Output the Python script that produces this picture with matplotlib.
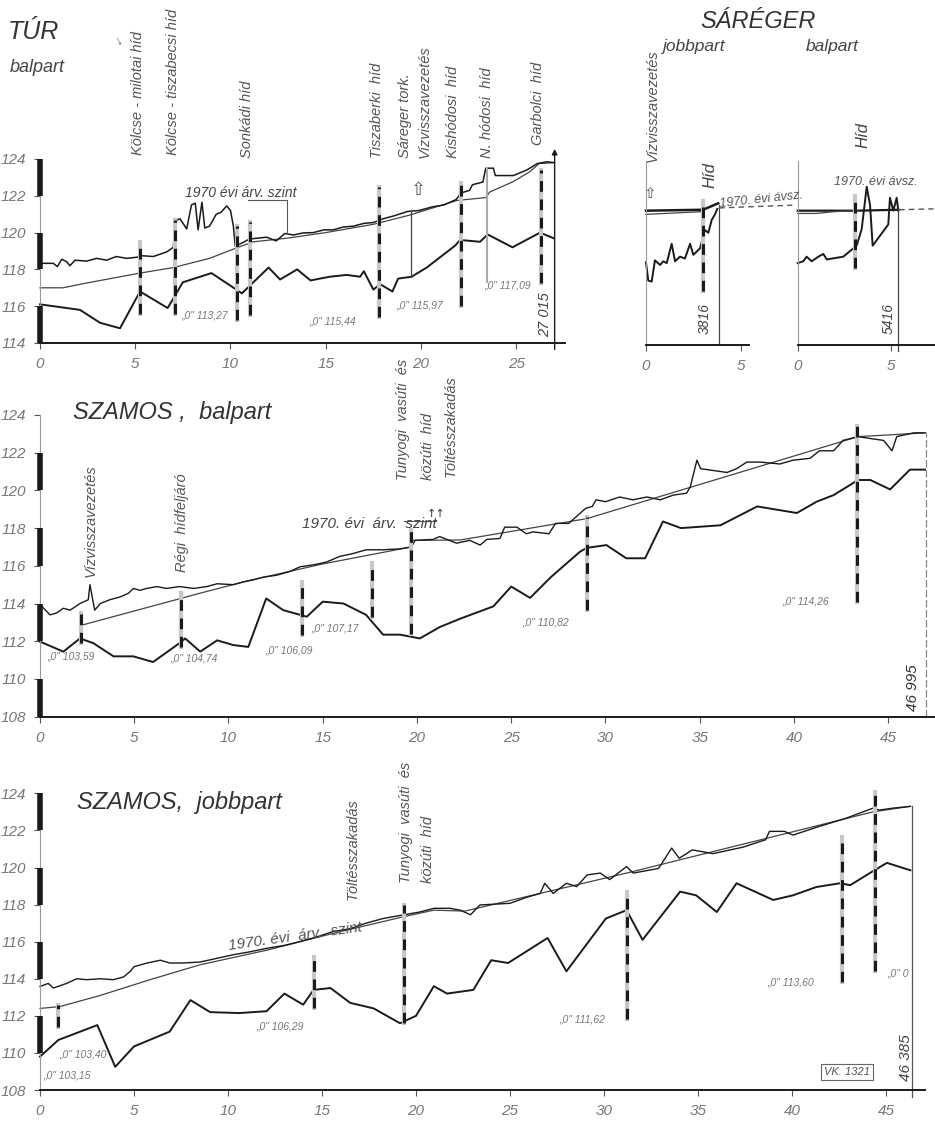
import matplotlib
matplotlib.use('Agg')
import matplotlib.pyplot as plt
from matplotlib import font_manager

W, H = 935, 1125

# ---------------- TÚR balpart ----------------
tur_crest_km = [0, 0.7, 0.91, 1.14, 1.4, 1.57, 1.84, 2.45, 2.97, 3.5, 4.0, 4.55, 5.15, 5.25, 5.95, 6.65, 7.0, 7.1,
                7.35, 7.7, 7.95, 8.15, 8.3, 8.5, 8.65, 8.9, 9.25, 9.5, 9.8, 10.0, 10.15, 10.25, 11.0, 11.9, 12.4,
                12.85, 13.3, 13.8, 14.35, 14.9, 15.4, 15.9, 16.45, 17.0, 17.5, 18.0, 18.55, 19.3, 19.9, 20.6, 21.2,
                21.85, 22.1, 22.55, 22.7, 23.25, 23.4, 23.8, 23.9, 24.85, 25.55, 26.1, 26.6, 27.0]
tur_crest_m = [118.33, 118.33, 118.15, 118.55, 118.42, 118.2, 118.5, 118.45, 118.6, 118.5, 118.7, 118.6, 118.67,
               118.75, 118.7, 118.95, 119.2, 120.65, 120.75, 120.2, 121.5, 121.6, 120.15, 121.65, 120.25, 120.35,
               121.0, 121.1, 121.45, 121.2, 120.35, 119.25, 119.65, 119.75, 119.55, 119.95, 119.87, 119.98, 120.0,
               120.15, 120.15, 120.3, 120.35, 120.5, 120.55, 120.75, 120.9, 121.15, 121.2, 121.4, 121.5, 121.8,
               122.15, 122.3, 122.6, 122.75, 123.5, 123.5, 123.1, 123.1, 123.4, 123.75, 123.85, 123.8]
tur_flood_km = [0, 1.2, 2.4, 5.25, 7.0, 8.9, 10.4, 11.2, 13.0, 15.0, 17.5, 19.4, 21.9, 23.4, 23.6, 24.8, 25.7,
                26.2, 27.0]
tur_flood_m = [117.0, 117.0, 117.25, 117.8, 118.1, 118.6, 119.2, 119.5, 119.7, 120.0, 120.45, 120.95, 121.75,
               121.9, 122.2, 122.75, 123.3, 123.75, 123.8]
tur_ground_km = [0, 2.1, 3.15, 4.2, 5.25, 6.7, 7.5, 9.0, 10.6, 12.0, 12.6, 13.5, 14.2, 15.2, 16.1, 16.8, 17.0,
                 17.5, 17.85, 18.5, 18.8, 19.5, 20.3, 21.8, 22.05, 23.1, 23.5, 24.8, 26.25, 26.95]
tur_ground_m = [116.1, 115.8, 115.1, 114.8, 116.8, 115.9, 117.3, 117.8, 116.7, 118.1, 117.45, 118.0, 117.4,
                117.6, 117.7, 117.6, 117.9, 116.9, 117.2, 116.8, 117.5, 117.6, 118.1, 119.3, 119.6, 119.5, 119.9,
                119.2, 120.0, 119.7]
tur_gauges = [(5.25, 119.5, 115.6), (7.1, 120.7, 115.6), (10.35, 120.35, 115.25), (11.0, 120.55, 115.5),
              (17.8, 122.5, 115.4), (22.1, 122.7, 116.0), (26.3, 123.4, 117.25)]
tur_zero = [(7.4, 115.5, '„0" 113,27'), (14.15, 115.15, '„0" 115,44'), (18.7, 116.05, '„0" 115,97'),
            (23.3, 117.15, '„0" 117,09')]

# ---------------- SÁRÉGER ----------------
sj_ground_km = [0, 0.12, 0.3, 0.47, 0.74, 0.91, 1.09, 1.35, 1.53, 1.79, 2.05, 2.32, 2.49, 2.84, 3.1, 3.28, 3.46,
                3.63, 3.75]
sj_ground_m = [118.5, 117.5, 117.45, 118.6, 118.35, 118.55, 118.45, 119.5, 118.55, 118.8, 118.7, 119.5, 118.9,
               119.25, 120.25, 120.1, 120.8, 121.1, 121.4]
sj_flood_km = [0, 3.0, 3.8]
sj_flood_m = [121.3, 121.35, 121.7]
sj_crest_km = [0, 3.0]
sj_crest_m = [121.1, 121.25]
sb_ground_km = [0, 0.3, 0.48, 0.75, 1.11, 1.38, 1.56, 2.45, 3.17, 3.44, 3.71, 3.89, 4.03, 4.87, 4.96, 5.14, 5.32,
                5.41]
sb_ground_m = [118.45, 118.55, 118.8, 118.55, 118.8, 118.95, 118.65, 118.8, 119.4, 120.3, 122.6, 121.6, 119.4,
               120.55, 122.0, 121.3, 122.0, 121.3]
sb_flood_km = [0, 2.0, 3.2, 5.41]
sb_flood_m = [121.3, 121.3, 121.3, 121.35]
sb_crest_km = [0, 1.0, 2.0, 3.2]
sb_crest_m = [121.15, 121.15, 121.25, 121.3]

# ---------------- SZAMOS balpart ----------------
szb_crest_km = [0, 0.53, 0.88, 1.24, 1.6, 2.12, 2.56, 2.65, 2.9, 3.2, 3.7, 4.25, 4.7, 4.95, 5.3, 5.65, 6.2, 6.7,
                7.4, 8.15, 8.85, 9.4, 10.25, 10.8, 11.3, 11.85, 12.55, 13.25, 13.8, 14.5, 15.2, 15.9, 16.6, 17.3,
                18.2, 19.1, 19.7, 19.9, 20.85, 21.2, 22.1, 22.8, 23.35, 23.7, 24.4, 24.65, 25.3, 25.8, 26.15, 27.0,
                27.35, 28.05, 28.95, 29.3, 29.5, 30.0, 30.75, 31.45, 32.2, 32.9, 33.6, 34.3, 34.5, 34.85, 35.05,
                35.75, 36.45, 36.95, 37.5, 38.2, 39.25, 39.95, 40.85, 41.35, 42.1, 42.6, 43.4, 44.05, 44.75, 45.2,
                45.45, 46.35, 46.95]
szb_crest_m = [113.95, 113.4, 113.5, 113.75, 113.65, 114.0, 114.2, 115.0, 113.65, 114.0, 114.2, 114.35, 114.55,
               114.8, 114.7, 114.8, 114.9, 114.8, 114.9, 114.8, 114.9, 115.05, 115.0, 115.15, 115.25, 115.4, 115.5,
               115.7, 115.95, 116.05, 116.2, 116.5, 116.65, 116.85, 116.85, 116.9, 117.0, 117.35, 117.4, 117.55,
               117.2, 117.35, 117.1, 117.4, 117.45, 118.05, 118.05, 117.7, 117.8, 117.7, 118.25, 118.25, 119.05,
               119.15, 119.5, 119.4, 119.65, 119.5, 119.65, 119.5, 119.75, 119.85, 120.2, 121.6, 121.15, 121.05,
               120.95, 121.15, 121.5, 121.5, 121.4, 121.6, 121.7, 122.1, 122.1, 122.65, 122.85, 122.75, 122.65,
               122.1, 122.85, 123.05, 123.05]
szb_flood_km = [2.2, 8.5, 11.0, 15.0, 19.7, 19.75, 22.3, 29.0, 43.4, 46.95]
szb_flood_m = [112.85, 114.55, 115.2, 116.1, 117.0, 117.35, 117.37, 118.5, 122.85, 123.05]
szb_ground_km = [0, 1.24, 2.12, 2.83, 3.9, 4.95, 6.0, 7.4, 7.7, 8.5, 9.4, 10.25, 11.05, 12.0, 12.9, 13.8, 14.15,
                 15.0, 16.1, 17.3, 18.2, 19.1, 20.15, 21.2, 22.3, 24.05, 25.0, 26.0, 27.1, 28.65, 29.0, 30.05, 31.1,
                 32.1, 33.05, 34.0, 36.1, 38.05, 40.15, 41.2, 42.1, 43.4, 44.05, 45.1, 46.15, 46.95]
szb_ground_m = [111.98, 111.45, 112.15, 111.9, 111.2, 111.2, 110.9, 111.9, 112.15, 111.45, 112.05, 111.8, 111.7,
                114.27, 113.65, 113.4, 113.3, 114.1, 114.0, 113.4, 112.35, 112.35, 112.15, 112.75, 113.2, 113.85,
                114.9, 114.3, 115.4, 116.75, 116.95, 117.1, 116.4, 116.4, 118.35, 118.0, 118.15, 119.15, 118.8,
                119.4, 119.75, 120.55, 120.55, 120.05, 121.1, 121.1]
szb_gauges = [(2.2, 113.5, 111.9), (7.5, 114.55, 111.7), (13.9, 115.15, 112.35), (17.6, 116.15, 113.3),
              (19.7, 117.9, 112.4), (29.0, 118.6, 113.65), (43.35, 123.4, 114.1)]
szb_zero = [(0.37, 111.2, '„0" 103,59'), (6.9, 111.1, '„0" 104,74'), (11.95, 111.5, '„0" 106,09'),
            (14.4, 112.7, '„0" 107,17'), (25.6, 113.0, '„0" 110,82'), (39.4, 114.1, '„0" 114,26')]

# ---------------- SZAMOS jobbpart ----------------
szj_crest_km = [0, 0.44, 0.71, 1.42, 1.95, 2.5, 3.2, 3.9, 4.45, 4.8, 5.0, 5.7, 6.4, 6.9, 7.6, 8.5, 9.4, 10.3,
                11.15, 12.1, 13.0, 13.8, 14.7, 15.6, 16.5, 17.35, 18.25, 19.35, 20.2, 20.95, 21.8, 22.35, 22.9,
                23.4, 25.0, 25.9, 26.6, 26.85, 27.3, 28.0, 28.55, 29.1, 29.8, 30.3, 31.2, 31.55, 32.9, 33.6, 34.0,
                34.7, 35.8, 37.4, 38.6, 38.8, 39.6, 40.05, 41.4, 42.85, 44.3, 44.65, 45.35, 46.3]
szj_crest_m = [113.58, 113.75, 113.5, 113.75, 114.0, 113.95, 114.0, 113.95, 114.1, 114.4, 114.65, 114.85, 115.0,
               114.85, 114.85, 114.9, 115.1, 115.3, 115.45, 115.65, 115.8, 116.0, 116.25, 116.55, 116.7, 117.0,
               117.25, 117.45, 117.6, 117.8, 117.8, 117.7, 117.45, 117.98, 118.07, 118.4, 118.6, 119.15, 118.6,
               119.15, 118.97, 119.6, 119.7, 119.35, 120.05, 119.7, 119.95, 121.05, 120.5, 120.95, 120.75, 121.1,
               121.5, 121.95, 121.95, 121.75, 122.2, 122.65, 123.2, 123.1, 123.2, 123.3]
szj_flood_km = [0, 1.06, 3.2, 5.85, 8.5, 12.1, 15.6, 19.35, 20.95, 22.6, 31.2, 44.3, 46.3]
szj_flood_m = [112.4, 112.5, 113.1, 113.95, 114.75, 115.55, 116.45, 117.35, 117.7, 117.65, 119.7, 123.0, 123.3]
szj_ground_km = [0, 0.98, 3.05, 4.0, 5.0, 6.9, 8.0, 9.05, 10.6, 12.05, 13.0, 14.0, 14.55, 15.45, 16.5, 17.75,
                 19.15, 20.0, 20.95, 21.65, 22.35, 23.05, 24.0, 24.9, 27.0, 28.0, 30.1, 31.2, 32.05, 34.05, 34.9,
                 36.0, 37.05, 39.0, 40.05, 41.3, 42.55, 43.1, 44.3, 45.05, 46.3]
szj_ground_m = [109.8, 110.7, 111.5, 109.25, 110.35, 111.15, 112.85, 112.2, 112.15, 112.25, 113.2, 112.6, 113.4,
                113.5, 112.7, 112.4, 111.6, 112.0, 113.6, 113.2, 113.3, 113.4, 115.0, 114.85, 116.2, 114.4, 117.25,
                117.7, 116.1, 118.7, 118.5, 117.6, 119.15, 118.25, 118.5, 118.95, 119.15, 119.05, 119.8, 120.25,
                119.85]
szj_gauges = [(0.95, 112.6, 111.4), (14.6, 115.2, 112.4), (19.35, 118.0, 111.6), (31.2, 118.7, 111.85),
              (42.65, 121.65, 113.85), (44.4, 124.1, 114.4)]
szj_zero = [(1.05, 109.9, '„0" 103,40'), (0.17, 108.8, '„0" 103,15'), (11.5, 111.4, '„0" 106,29'),
            (27.65, 111.8, '„0" 111,62'), (38.7, 113.8, '„0" 113,60'), (45.05, 114.3, '„0" 0')]

names = {f.name for f in font_manager.fontManager.ttflist}
FONT = 'Liberation Sans Narrow' if 'Liberation Sans Narrow' in names else 'Liberation Sans'
plt.rcParams['font.family'] = [FONT, 'DejaVu Sans']
plt.rcParams['font.style'] = 'italic'

INK = '#1a1a1a'
TXT = '#555555'
ROT = 10.5  # rotated place names

fig = plt.figure(figsize=(W / 100, H / 100), dpi=100)


def panel(x0, y0, kpx, mpx, xlim, ylim):
    return fig.add_axes([x0 / W, 1 - y0 / H, (xlim[1] - xlim[0]) * kpx / W, (ylim[1] - ylim[0]) * mpx / H],
                        xlim=xlim, ylim=ylim)


def ftext(x, y, s, **kw):
    kw.setdefault('color', TXT)
    fig.text(x / W, 1 - y / H, s, **kw)


def style(ax, xticks, yticks, thick=None):
    for sp in ['top', 'right']:
        ax.spines[sp].set_visible(False)
    ax.patch.set_alpha(0)
    ax.spines['bottom'].set_linewidth(1.4)
    ax.spines['bottom'].set_color(INK)
    ax.spines['left'].set_linewidth(0.8)
    ax.spines['left'].set_color('#999')
    ax.set_xticks(xticks)
    ax.set_yticks(yticks)
    ax.tick_params(direction='out', length=4, width=0.8, color='#555', labelcolor='#777', labelsize=11, pad=6)
    if not yticks:
        ax.tick_params(axis='y', left=False)
    for lab in ax.get_xticklabels() + ax.get_yticklabels():
        lab.set_fontstyle('italic')
    if thick:
        for a, b in thick:
            ax.plot([0, 0], [a, b], color=INK, lw=4, solid_capstyle='butt', clip_on=False, zorder=5)


def gauges(ax, items):
    for km, top, bot in items:
        ax.plot([km, km], [bot, top], color='#c8c8c8', lw=3, clip_on=False, zorder=3)
        ax.plot([km, km], [bot, top], color=INK, lw=2.2, dashes=(3.5, 2.5), clip_on=False, zorder=4)


def zeros(ax, items):
    for km, m, s in items:
        ax.text(km, m, s, fontsize=7.5, color='#777', ha='left', va='center')


# ---------- TÚR ----------
ax = panel(40, 343, 19.05, 18.4, (0, 27.55), (114, 124))
style(ax, [0, 5, 10, 15, 20, 25], [114, 116, 118, 120, 122, 124], [(114, 116), (118, 120), (122, 124)])
ax.plot(tur_ground_km, tur_ground_m, color=INK, lw=1.4, clip_on=False)
ax.plot(tur_flood_km, tur_flood_m, color='#444', lw=0.9, clip_on=False)
ax.plot(tur_crest_km, tur_crest_m, color=INK, lw=1.1, clip_on=False)
gauges(ax, tur_gauges)
zeros(ax, tur_zero)
ax.plot([19.45, 19.45], [117.6, 121.15], color='#444', lw=0.9)
ax.plot([23.45, 23.45], [117.3, 123.5], color='#aaa', lw=1.5)
ax.annotate('', xy=(27.015, 124.7), xytext=(27.015, 113.5), annotation_clip=False,
            arrowprops=dict(arrowstyle='-|>', lw=1.0, color=INK, mutation_scale=8))
ax.plot([10.9, 12.95, 12.95], [121.75, 121.75, 120.0], color='#555', lw=0.8, clip_on=False)

ftext(8, 32, 'TÚR', fontsize=18, va='center', color='#333')
ftext(10, 68, 'balpart', fontsize=13, va='center', color='#444')
ftext(118, 40, '↓', fontsize=9, ha='center', va='center', rotation=30)
tur_labels = [(138, 155, 'Kölcse - milotai híd'), (173, 155, 'Kölcse - tiszabecsi híd'), (247, 158, 'Sonkádi híd'),
              (377, 158, 'Tiszaberki  híd'), (405, 158, 'Sáreger tork.'), (425, 158, 'Vízvisszavezetés'),
              (453, 158, 'Kishódosi  híd'), (487, 158, 'N. hódosi  híd'), (538, 145, 'Garbolci  híd')]
for x, y, s in tur_labels:
    ftext(x, y, s, fontsize=ROT, rotation=90, ha='center', va='bottom')
ftext(185, 193, '1970 évi árv. szint', fontsize=10, va='center', color='#444')
ftext(418, 190, '⇧', fontsize=13, ha='center', va='center', color='#555', family='DejaVu Sans')
ftext(545, 315, '27 015', fontsize=10.5, rotation=90, ha='center', va='center', color='#444')

# ---------- SÁRÉGER ----------
axj = panel(646, 345, 19.0, 18.4, (0, 5.4), (114, 124))
style(axj, [0, 5], [])
axj.plot(sj_ground_km, sj_ground_m, color=INK, lw=1.4, clip_on=False)
axj.plot(sj_flood_km, sj_flood_m, color=INK, lw=1.8, clip_on=False)
axj.plot(sj_crest_km, sj_crest_m, color='#444', lw=0.9, clip_on=False)
axj.plot([3.816, 3.816], [114, 121.6], color='#444', lw=0.9)
axj.plot([3.85, 7.7], [121.45, 121.6], color='#555', lw=1.0, ls=(0, (4, 3)), clip_on=False)
gauges(axj, [(3.02, 121.85, 116.95)])

axb = panel(797.7, 345, 18.6, 18.4, (0, 7.35), (114, 124))
style(axb, [0, 5], [])
axb.plot(sb_ground_km, sb_ground_m, color=INK, lw=1.4, clip_on=False)
axb.plot(sb_flood_km, sb_flood_m, color=INK, lw=1.6, clip_on=False)
axb.plot(sb_crest_km, sb_crest_m, color='#444', lw=0.9, clip_on=False)
axb.plot([5.416, 5.416], [113.7, 121.4], color='#444', lw=0.9, clip_on=False)
axb.plot([5.45, 7.3], [121.35, 121.4], color='#555', lw=1.0, ls=(0, (4, 3)), clip_on=False)
gauges(axb, [(3.1, 122.1, 118.2)])

ftext(758, 22, 'SÁRÉGER', fontsize=17, ha='center', va='center', color='#333')
ftext(694, 46, 'jobbpart', fontsize=12.5, ha='center', va='center', color='#444')
ftext(832, 46, 'balpart', fontsize=12.5, ha='center', va='center', color='#444')
ftext(653, 162, 'Vízvisszavezetés', fontsize=ROT, rotation=90, ha='center', va='bottom')
ftext(710, 188, 'Híd', fontsize=12, rotation=90, ha='center', va='bottom', color='#444')
ftext(863, 148, 'Híd', fontsize=12, rotation=90, ha='center', va='bottom', color='#444')
ftext(719, 200, '1970. évi ávsz.', fontsize=9, rotation=6, va='center')
ftext(834, 182, '1970. évi ávsz.', fontsize=9, va='center')
ftext(650, 193, '⇧', fontsize=11, ha='center', va='center', family='DejaVu Sans')
ftext(705, 318, '3816', fontsize=10, rotation=90, ha='center', va='center', color='#444')
ftext(889, 318, '5416', fontsize=10, rotation=90, ha='center', va='center', color='#444')

# ---------- SZAMOS balpart ----------
ax = panel(40, 716.7, 18.85, 18.86, (0, 47.45), (108, 124))
style(ax, list(range(0, 50, 5)), list(range(108, 126, 2)), [(108, 110), (112, 114), (116, 118), (120, 122)])
ax.plot(szb_ground_km, szb_ground_m, color=INK, lw=1.4, clip_on=False)
ax.plot(szb_flood_km, szb_flood_m, color='#444', lw=0.9, clip_on=False)
ax.plot(szb_crest_km, szb_crest_m, color=INK, lw=1.0, clip_on=False)
gauges(ax, szb_gauges)
zeros(ax, szb_zero)
ax.plot([46.995, 46.995], [108, 123.1], color='#888', lw=0.9, ls=(0, (6, 2)), clip_on=False)
ax.plot([19.3, 21.0], [118.4, 118.4], color='#555', lw=0.8)

ftext(73, 412, 'SZAMOS ,  balpart', fontsize=17, va='center', color='#333')
ftext(91, 577, 'Vízvisszavezetés', fontsize=ROT, rotation=90, ha='center', va='bottom')
ftext(182, 572, 'Régi  hídfeljáró', fontsize=ROT, rotation=90, ha='center', va='bottom')
ftext(403, 480, 'Tunyogi  vasúti  és', fontsize=ROT, rotation=90, ha='center', va='bottom')
ftext(428, 480, 'közúti  híd', fontsize=ROT, rotation=90, ha='center', va='bottom')
ftext(451, 477, 'Töltésszakadás', fontsize=ROT, rotation=90, ha='center', va='bottom')
ftext(302, 524, '1970. évi  árv.  szint', fontsize=11, va='center', color='#444')
ftext(436, 514, '↑↑', fontsize=8, ha='center', va='center', color='#333', family='DejaVu Sans')
ftext(913, 688, '46 995', fontsize=11, rotation=90, ha='center', va='center', color='#333')

# ---------- SZAMOS jobbpart ----------
ax = panel(40, 1090, 18.8, 18.54, (0, 47.05), (108, 124))
style(ax, list(range(0, 50, 5)), list(range(108, 126, 2)), [(110, 112), (114, 116), (118, 120), (122, 124)])
ax.plot(szj_ground_km, szj_ground_m, color=INK, lw=1.4, clip_on=False)
ax.plot(szj_flood_km, szj_flood_m, color='#444', lw=0.9, clip_on=False)
ax.plot(szj_crest_km, szj_crest_m, color=INK, lw=1.0, clip_on=False)
gauges(ax, szj_gauges)
zeros(ax, szj_zero)
ax.plot([46.385, 46.385], [107.6, 123.3], color='#555', lw=0.9, clip_on=False)

ftext(77, 803, 'SZAMOS,  jobbpart', fontsize=17, va='center', color='#333')
ftext(353, 900, 'Töltésszakadás', fontsize=ROT, rotation=90, ha='center', va='bottom')
ftext(406, 883, 'Tunyogi  vasúti  és', fontsize=ROT, rotation=90, ha='center', va='bottom')
ftext(428, 883, 'közúti  híd', fontsize=ROT, rotation=90, ha='center', va='bottom')
ftext(227, 937, '1970. évi  árv.  szint', fontsize=11, rotation=8, va='center', color='#555')
ftext(906, 1058, '46 385', fontsize=11, rotation=90, ha='center', va='center', color='#444')
ftext(847, 1072, 'VK. 1321', fontsize=8, ha='center', va='center', color='#555',
      bbox=dict(boxstyle='square,pad=0.3', fc='white', ec='#666', lw=0.8))

fig.savefig('out.png', dpi=100, facecolor='white')
